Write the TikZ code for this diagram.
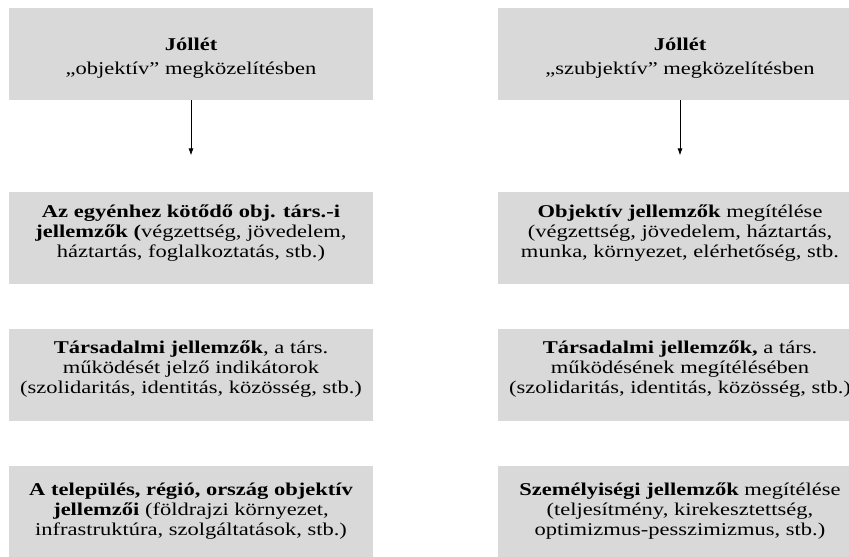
\documentclass[tikz,border=0pt]{standalone}
\usepackage{fontspec}
\setmainfont[FakeStretch=1.25]{Liberation Serif}
\usetikzlibrary{arrows.meta}
\definecolor{boxgray}{RGB}{217,217,217}
\begin{document}
\begin{tikzpicture}[x=1pt,y=-1pt,>={Latex[length=7pt,width=5pt]},line width=.8pt,
	font=\fontsize{18}{20.2}\selectfont,
	box/.style={fill=boxgray,minimum width=364pt,minimum height=92pt,inner sep=0pt},
	txt/.style={align=center,inner sep=0pt}]
	\clip (0,0) rectangle (849,557);
	\path
	(191,54) node[box] (L1) {}
	(191,237.5) node[box] (L2) {}
	(191,375) node[box] (L3) {}
	(191,512) node[box] (L4) {}
	(680,54) node[box] (R1) {}
	(680,237.5) node[box] (R2) {}
	(680,375) node[box] (R3) {}
	(680,512) node[box] (R4) {}
	(L1.south)+(0,55) coordinate (aL)
	(R1.south)+(0,55) coordinate (aR)
	;
	% bal oszlop
	\node[txt] (tL1) at (191,58) {\textbf{Jóllét}\\[4pt]„objektív” megközelítésben};
	\node[txt] (tL2) at (191,233) {\textbf{Az egyénhez kötődő obj. társ.-i}\\\textbf{jellemzők (}végzettség, jövedelem,\\háztartás, foglalkoztatás, stb.)};
	\node[txt] (tL3) at (191,369) {\textbf{Társadalmi jellemzők}, a társ.\\működését jelző indikátorok\\(szolidaritás, identitás, közösség, stb.)};
	\node[txt] (tL4) at (191,511) {\textbf{A település, régió, ország objektív}\\\textbf{jellemzői} (földrajzi környezet,\\infrastruktúra, szolgáltatások, stb.)};
	% jobb oszlop
	\node[txt] (tR1) at (680,58) {\textbf{Jóllét}\\[4pt]„szubjektív” megközelítésben};
	\node[txt] (tR2) at (680,233) {\textbf{Objektív jellemzők} megítélése\\(végzettség, jövedelem, háztartás,\\munka, környezet, elérhetőség, stb.};
	\node[txt] (tR3) at (680,369) {\textbf{Társadalmi jellemzők,} a társ.\\működésének megítélésében\\(szolidaritás, identitás, közösség, stb.)};
	\node[txt] (tR4) at (680,511) {\textbf{Személyiségi jellemzők} megítélése\\(teljesítmény, kirekesztettség,\\optimizmus-pesszimizmus, stb.)};
	\draw[->] (L1.south)--(aL);
	\draw[->] (R1.south)--(aR);
\end{tikzpicture}
\end{document}
